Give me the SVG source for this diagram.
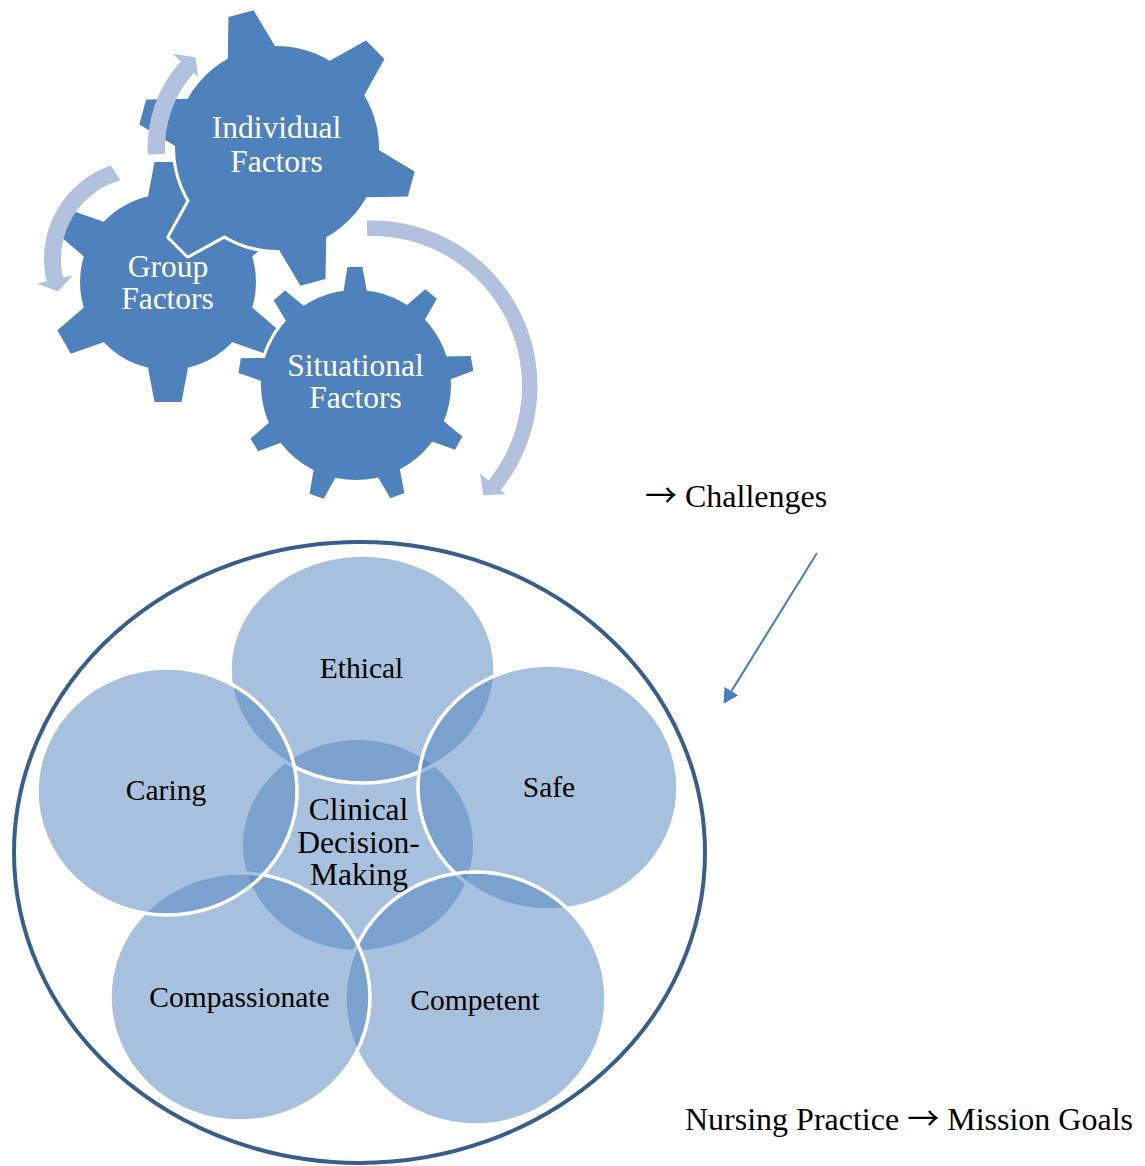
<svg xmlns="http://www.w3.org/2000/svg" width="1145" height="1166" viewBox="0 0 1145 1166">
<style>
.gear{fill:#4F81BD}
.gear-outline{fill:#4F81BD;stroke:#FFFFFF;stroke-width:6;stroke-linejoin:round}
.gtext{font-family:"Liberation Serif","Times New Roman",serif;font-size:31.5px;fill:#FFFFFF;text-anchor:middle}
.cyc{fill:#B2C1DD}
.venn{fill:#4F81BD;fill-opacity:0.5;stroke:#FFFFFF;stroke-width:3.5}
.venn-core{fill:#4F81BD;fill-opacity:0.5}
.ring{fill:none;stroke:#3A5E8C;stroke-width:4}
.vtext{font-family:"Liberation Serif","Times New Roman",serif;font-size:29.5px;fill:#000000;text-anchor:middle}
.ctext{font-family:"Liberation Serif","Times New Roman",serif;font-size:31.5px;fill:#000000;text-anchor:middle}
.note{font-family:"Liberation Serif","Times New Roman",serif;font-size:32px;fill:#000000}
.arr{font-family:"Noto Sans CJK SC","DejaVu Sans",sans-serif}
.link{fill:none;stroke:#4A7EBB;stroke-width:2}
</style>
<defs>
  <g id="shape-individual">
    <circle cx="0" cy="0" r="102"/>
    <polygon points="-25,-97 -13,-139 13,-139 25,-97" transform="rotate(-15)"/>
    <polygon points="-25,-97 -13,-139 13,-139 25,-97" transform="rotate(45)"/>
    <polygon points="-25,-97 -13,-139 13,-139 25,-97" transform="rotate(105)"/>
    <polygon points="-25,-97 -13,-139 13,-139 25,-97" transform="rotate(165)"/>
    <polygon points="-25,-97 -13,-139 13,-139 25,-97" transform="rotate(225)"/>
    <polygon points="-25,-97 -13,-139 13,-139 25,-97" transform="rotate(285)"/>
  </g>
  <g id="shape-group">
    <circle cx="0" cy="0" r="88"/>
    <polygon points="-20.5,-83 -13.5,-120 13.5,-120 20.5,-83" transform="rotate(0)"/>
    <polygon points="-20.5,-83 -13.5,-120 13.5,-120 20.5,-83" transform="rotate(60)"/>
    <polygon points="-20.5,-83 -13.5,-120 13.5,-120 20.5,-83" transform="rotate(120)"/>
    <polygon points="-20.5,-83 -13.5,-120 13.5,-120 20.5,-83" transform="rotate(180)"/>
    <polygon points="-20.5,-83 -13.5,-120 13.5,-120 20.5,-83" transform="rotate(240)"/>
    <polygon points="-20.5,-83 -13.5,-120 13.5,-120 20.5,-83" transform="rotate(300)"/>
  </g>
  <g id="shape-situational">
    <circle cx="0" cy="0" r="95"/>
    <polygon points="-12,-92 -7.5,-118 7.5,-118 12,-92" transform="rotate(-0.5)"/>
    <polygon points="-12,-92 -7.5,-118 7.5,-118 12,-92" transform="rotate(39.5)"/>
    <polygon points="-12,-92 -7.5,-118 7.5,-118 12,-92" transform="rotate(79.5)"/>
    <polygon points="-12,-92 -7.5,-118 7.5,-118 12,-92" transform="rotate(119.5)"/>
    <polygon points="-12,-92 -7.5,-118 7.5,-118 12,-92" transform="rotate(159.5)"/>
    <polygon points="-12,-92 -7.5,-118 7.5,-118 12,-92" transform="rotate(199.5)"/>
    <polygon points="-12,-92 -7.5,-118 7.5,-118 12,-92" transform="rotate(239.5)"/>
    <polygon points="-12,-92 -7.5,-118 7.5,-118 12,-92" transform="rotate(279.5)"/>
    <polygon points="-12,-92 -7.5,-118 7.5,-118 12,-92" transform="rotate(319.5)"/>
  </g>
  <marker id="arrowhead" markerUnits="userSpaceOnUse" viewBox="0 0 15 16" markerWidth="15" markerHeight="16" refX="0" refY="8" orient="auto">
    <path d="M0,0 L15,8 L0,16 Z" fill="#4A7EBB"/>
  </marker>
</defs>

<g id="node-group-factors">
  <use href="#shape-group" class="gear-outline" transform="translate(168,282)"/>
  <use href="#shape-group" class="gear" transform="translate(168,282)"/>
  <text class="gtext" x="168" y="276.7">Group</text>
  <text class="gtext" x="167.5" y="309.3">Factors</text>
</g>
<g id="node-individual-factors">
  <use href="#shape-individual" class="gear-outline" transform="translate(277,148)"/>
  <use href="#shape-individual" class="gear" transform="translate(277,148)"/>
  <text class="gtext" x="276.5" y="138.3">Individual</text>
  <text class="gtext" x="276.5" y="171.7">Factors</text>
</g>
<g id="node-situational-factors">
  <use href="#shape-situational" class="gear-outline" transform="translate(356,385)"/>
  <use href="#shape-situational" class="gear" transform="translate(356,385)"/>
  <text class="gtext" x="355.5" y="376">Situational</text>
  <text class="gtext" x="355.5" y="408.3">Factors</text>
</g>

<g id="connectors">
  <path class="cyc" d="M147.68,154.78 A129.5 129.5 0 0 1 180.76,61.35 L172.22,53.65 L195.37,57.34 L198.23,77.07 L193.77,73.06 A112 112 0 0 0 165.15,153.86 Z"/>
  <path class="cyc" d="M110.77,165.39 A99 99 0 0 0 46.54,281.27 L36.79,283.52 L58.04,291.61 L72.85,275.20 L63.10,277.45 A82 82 0 0 1 120.40,180.18 Z"/>
  <path class="cyc" d="M366.80,220.58 A165.5 165.5 0 0 1 500.62,490.15 L505.67,494.24 L483.27,495.34 L480.02,473.48 L488.57,480.40 A150 150 0 0 0 367.29,236.07 Z"/>
  <line class="link" x1="817" y1="553" x2="731.4" y2="691.1" marker-end="url(#arrowhead)"/>
</g>

<g id="node-nursing-practice">
  <ellipse class="ring" cx="359.5" cy="852.5" rx="345.5" ry="310.5"/>
</g>
<g id="node-clinical-decision-making">
  <ellipse class="venn-core" cx="358" cy="845" rx="115" ry="105"/>
  <text class="ctext" x="358.5" y="820">Clinical</text>
  <text class="ctext" x="358.5" y="853.3">Decision-</text>
  <text class="ctext" x="359" y="885">Making</text>
</g>
<g id="node-ethical">
  <ellipse class="venn" cx="362.5" cy="669" rx="132.5" ry="114"/>
  <text class="vtext" x="361.5" y="678">Ethical</text>
</g>
<g id="node-safe">
  <ellipse class="venn" cx="548" cy="787.5" rx="130" ry="122.5"/>
  <text class="vtext" x="549" y="797">Safe</text>
</g>
<g id="node-competent">
  <ellipse class="venn" cx="475.5" cy="998.5" rx="130.5" ry="126.5"/>
  <text class="vtext" x="475" y="1010">Competent</text>
</g>
<g id="node-compassionate">
  <ellipse class="venn" cx="240" cy="997" rx="130" ry="124"/>
  <text class="vtext" x="239.5" y="1007">Compassionate</text>
</g>
<g id="node-caring">
  <ellipse class="venn" cx="167" cy="791.5" rx="130" ry="123.5"/>
  <text class="vtext" x="166" y="800">Caring</text>
</g>

<g id="label-challenges">
  <text class="note" x="645" y="506.5"><tspan class="arr">→</tspan> Challenges</text>
</g>
<g id="label-mission">
  <text class="note" x="685" y="1129.5">Nursing Practice <tspan class="arr">→</tspan> Mission Goals</text>
</g>
</svg>
